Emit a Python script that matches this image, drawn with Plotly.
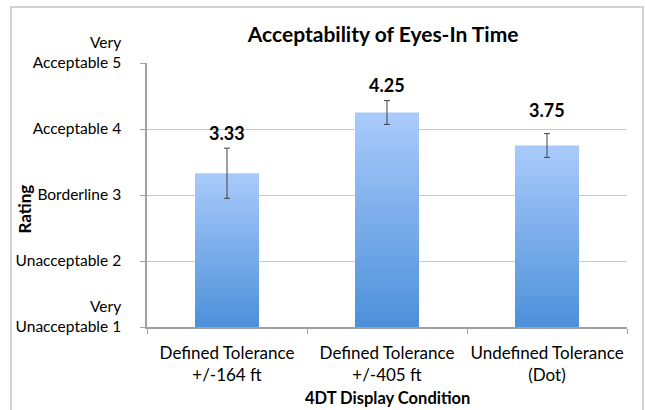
import plotly.graph_objects as go

categories = ["Defined Tolerance<br>+/-164 ft", "Defined Tolerance<br>+/-405 ft", "Undefined Tolerance<br>(Dot)"]
ratings = [3.33, 4.25, 3.75]
errors = [0.38, 0.18, 0.18]
value_labels = ["3.33", "4.25", "3.75"]
tick_values = [1, 2, 3, 4, 5]
tick_labels = ["Very<br>Unacceptable 1<br>\u00a0", "Unacceptable 2", "Borderline 3", "Acceptable 4",
               "Very<br>Acceptable 5<br>\u00a0"]

FONT = "Lato"
top_rgb = (168, 202, 250)
bot_rgb = (78, 145, 218)
N = 30

fig = go.Figure()
for k in range(N):
    f = 1 - k / N
    t = k / (N - 1)
    c = tuple(round(top_rgb[i] + (bot_rgb[i] - top_rgb[i]) * t) for i in range(3))
    fig.add_trace(go.Bar(
        x=categories,
        y=[(v - 1) * f for v in ratings],
        base=1,
        width=0.4,
        marker=dict(color="rgb(%d,%d,%d)" % c, line=dict(width=0)),
        showlegend=False,
        hoverinfo="skip",
    ))

fig.add_trace(go.Scatter(
    x=categories, y=ratings, mode="markers",
    marker=dict(size=1, color="rgba(0,0,0,0)"),
    error_y=dict(type="data", array=errors, color="#404040", thickness=1, width=3),
    showlegend=False, hoverinfo="skip",
))

label_shift = [27, 15, 23]
for cat, v, lab, s in zip(categories, ratings, value_labels, label_shift):
    fig.add_annotation(x=cat, y=v, text="<b>%s</b>" % lab, showarrow=False,
                       yanchor="bottom", yshift=s,
                       font=dict(family=FONT, size=18, color="black"))

fig.add_annotation(xref="paper", yref="paper", x=-0.281, y=0.447, text="<b>Rating</b>",
                   textangle=-90, showarrow=False, font=dict(family=FONT, size=17, color="black"))
fig.add_annotation(xref="paper", yref="paper", x=0.5, y=-0.268, yanchor="middle",
                   text="<b>4DT Display Condition</b>", showarrow=False,
                   font=dict(family=FONT, size=16.5, color="black"))

fig.add_shape(type="rect", xref="paper", yref="paper",
              x0=-0.2833, x1=1.0333, y0=-0.33, y1=1.2121,
              line=dict(color="#c4c4c4", width=1.5), layer="below")

fig.update_layout(
    width=645, height=410,
    margin=dict(l=147, r=18, t=63, b=83, autoexpand=False),
    paper_bgcolor="white", plot_bgcolor="white",
    barmode="overlay",
    bargap=0.6,
    title=dict(text="<b>Acceptability of Eyes-In Time</b>", x=0.594, xanchor="center",
               y=0.915, yanchor="middle", font=dict(family=FONT, size=21, color="black")),
    xaxis=dict(showline=True, linecolor="#a0a0a0", linewidth=1.5, ticks="outside",
               tickson="boundaries", ticklen=5, tickcolor="#a0a0a0", automargin=False,
               tickfont=dict(family=FONT, size=17, color="black"), showgrid=False,
               ticklabelstandoff=10, tickangle=0),
    yaxis=dict(range=[1, 5], tickvals=tick_values, ticktext=tick_labels,
               showline=True, linecolor="#a0a0a0", linewidth=1.5, ticks="outside",
               ticklen=5, tickcolor="#a0a0a0", showgrid=True, gridcolor="#c8c8c8",
               gridwidth=1, zeroline=False, ticklabelstandoff=16, automargin=False,
               tickfont=dict(family=FONT, size=15.5, color="black")),
)

fig.write_html("out.html", config={"displayModeBar": False},
               post_script="document.body.style.margin='0px';document.body.style.overflow='hidden';")
